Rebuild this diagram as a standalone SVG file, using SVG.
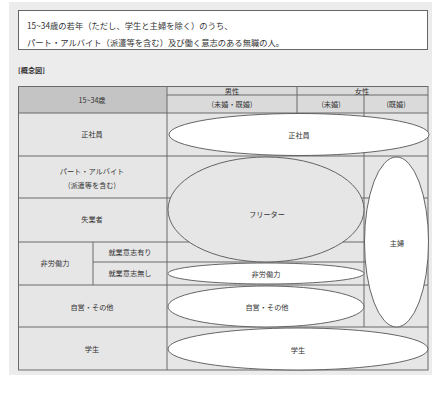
<svg xmlns="http://www.w3.org/2000/svg" width="434" height="393" viewBox="0 0 434 393">
<style>
text{font-family:"Noto Sans CJK JP","Noto Sans",sans-serif;font-size:7.2px;fill:#333;text-anchor:middle;dominant-baseline:central}
.l{text-anchor:start}
.t{font-size:8.3px}
.g{stroke:#6a6a6a;stroke-width:1;fill:none}
.e{stroke:#555;stroke-width:0.9;fill:#fff}
.ef{stroke:#555;stroke-width:0.9;fill:#e6e6e6}
</style>
<rect x="0" y="0" width="434" height="393" fill="#fff"/>
<rect x="9" y="2" width="423" height="373" fill="#ececec"/>
<g id="note">
<rect x="18.5" y="10.5" width="409" height="39" fill="#fff" stroke="#666"/>
<text class="l t" x="27" y="25">15~34歳の若年（ただし、学生と主婦を除く）のうち、</text>
<text class="l t" x="27" y="42">パート・アルバイト（派遣等を含む）及び働く意志のある無職の人。</text>
</g>
<text class="l" x="18" y="70" font-weight="bold">[概念図]</text>
<g id="table">
<rect x="18" y="86" width="410" height="284" fill="#e6e6e6"/>
<rect x="18" y="86" width="149" height="27" fill="#c4c4c4"/>
<rect x="167" y="86" width="261" height="27" fill="#dadada"/>
<g class="g">
<rect x="18.5" y="86.5" width="409.5" height="283.5"/>
<line x1="167" y1="86" x2="167" y2="370"/>
<line x1="297" y1="86" x2="297" y2="113"/>
<line x1="364" y1="95" x2="364" y2="327"/>
<line x1="93" y1="242" x2="93" y2="285"/>
<line x1="167" y1="95" x2="428" y2="95"/>
<line x1="18" y1="113" x2="428" y2="113"/>
<line x1="18" y1="156" x2="428" y2="156"/>
<line x1="18" y1="198" x2="428" y2="198"/>
<line x1="18" y1="242" x2="428" y2="242"/>
<line x1="93" y1="262" x2="428" y2="262"/>
<line x1="18" y1="285" x2="428" y2="285"/>
<line x1="18" y1="327" x2="428" y2="327"/>
</g>
<text x="92" y="100">15~34歳</text>
<text x="232" y="90.5">男性</text>
<text x="362" y="90.5">女性</text>
<text x="232" y="104">(未婚・既婚)</text>
<text x="331" y="104">(未婚)</text>
<text x="396" y="104">(既婚)</text>
<text x="92" y="134">正社員</text>
<text x="92" y="171">パート・アルバイト</text>
<text x="92" y="185">(派遣等を含む)</text>
<text x="92" y="219">失業者</text>
<text x="55" y="263">非労働力</text>
<text x="130" y="252">就業意志有り</text>
<text x="130" y="273">就業意志無し</text>
<text x="92" y="307">自営・その他</text>
<text x="92" y="349">学生</text>
</g>
<g id="seishain"><ellipse class="e" cx="299" cy="134.5" rx="130" ry="21"/><text x="299" y="135">正社員</text></g>
<g id="freeter"><ellipse class="ef" cx="266" cy="209.5" rx="98" ry="52.5"/><text x="267" y="214">フリーター</text></g>
<g id="shufu"><ellipse class="e" cx="396.5" cy="242" rx="32" ry="85"/><text x="397" y="243">主婦</text></g>
<g id="hirodo"><ellipse class="e" cx="266" cy="273.5" rx="98" ry="10.5"/><text x="266" y="274">非労働力</text></g>
<g id="jiei"><ellipse class="e" cx="266" cy="306.5" rx="98" ry="20.5"/><text x="267" y="307">自営・その他</text></g>
<g id="gakusei"><ellipse class="e" cx="298" cy="349" rx="130" ry="21"/><text x="298" y="350">学生</text></g>
</svg>
